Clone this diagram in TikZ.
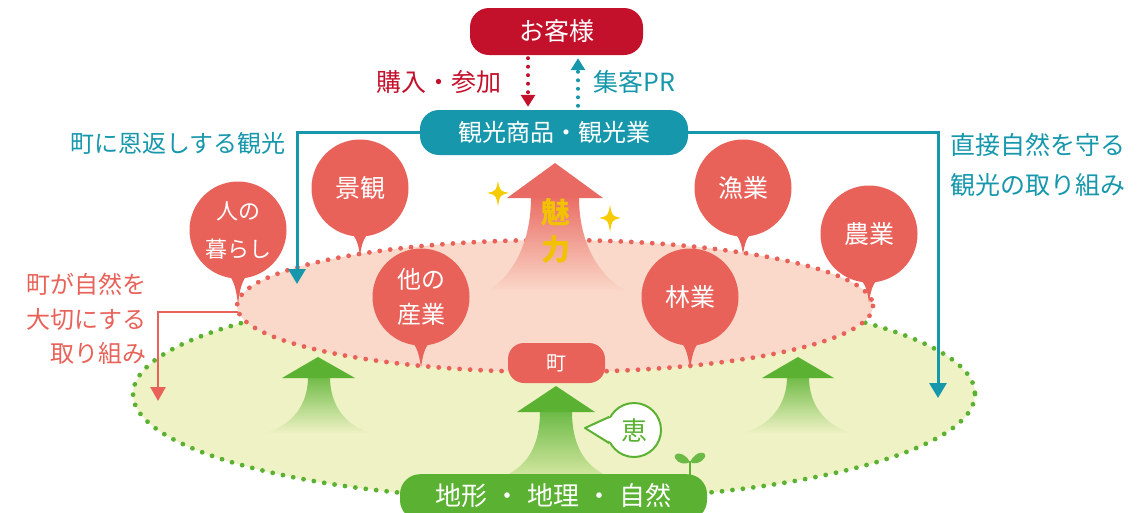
\documentclass[tikz,border=0pt]{standalone}
\usepackage{fontspec}
\setmainfont{Noto Sans CJK JP}
\usetikzlibrary{arrows.meta,calc}
\definecolor{kred}{HTML}{C3102B}
\definecolor{kteal}{HTML}{1697AC}
\definecolor{ksal}{HTML}{E8625A}
\definecolor{kpink}{HTML}{FAD9CA}
\definecolor{kgreen}{HTML}{5BB232}
\definecolor{kgfill}{HTML}{EEF2C4}
\definecolor{kglight}{HTML}{D3E7A0}
\definecolor{kyel}{HTML}{F6CC00}
\definecolor{kgold}{HTML}{F2C200}
\newcommand{\kfs}[2]{\fontsize{#1}{#2}\selectfont}
\newcommand{\ktail}[2]{\fill[ksal] ($(#1.south)+(-13,-7)$) .. controls ($(#1.south)+(-3,-1)$) and ($(#1.south)+(-1.5,#2-10)$) .. ($(#1.south)+(0,#2)$) .. controls ($(#1.south)+(1.5,#2-10)$) and ($(#1.south)+(3,-1)$) .. ($(#1.south)+(13,-7)$) -- cycle;}
\tikzset{
  bubble/.style={circle, fill=ksal, minimum size=97pt, inner sep=0pt, text=white, align=center},
  pillbox/.style={rectangle, rounded corners=19pt, inner sep=0pt, text=white},
  dotborder/.style={line width=4.8pt, line cap=round, dash pattern=on 0pt off 10.5pt},
  smalldots/.style={line width=4pt, line cap=round, dash pattern=on 0pt off 8.5pt},
  tealline/.style={draw=kteal, line width=3pt, -{Triangle[length=15pt,width=17pt]}},
  salline/.style={draw=ksal, line width=2.5pt, -{Triangle[length=14pt,width=15pt]}},
  sparkle/.style={fill=kyel}
}
\begin{document}
\begin{tikzpicture}[x=1pt,y=-1pt]
\useasboundingbox (0,0) rectangle (1137,512);
\begin{scope}
\clip (0,0) rectangle (1137,512);

% green ground ellipse
\path[fill=kgfill, draw=kgreen, dotborder] (554,394) ellipse [x radius=421, y radius=106];

% side green arrows
\shade[top color=kgreen!85!kgfill, bottom color=kgfill] (308,377) .. controls (308,405) and (292,425) .. (266,433) -- (370,433) .. controls (345,425) and (330,405) .. (330,377) -- cycle;
\fill[kgreen] (318,357) -- (355,378) -- (282,378) -- cycle;
\shade[top color=kgreen!85!kgfill, bottom color=kgfill] (787,377) .. controls (787,405) and (770,425) .. (744,433) -- (851,433) .. controls (825,425) and (809,405) .. (809,377) -- cycle;
\fill[kgreen] (798,357) -- (834,378) -- (762,378) -- cycle;

% pink town ellipse
\path[fill=kpink, draw=ksal, dotborder] (555,306) ellipse [x radius=318, y radius=66];

% pink charm arrow
\shade[top color=ksal!90!kpink, bottom color=kpink] (531,197) .. controls (531,240) and (515,275) .. (486,292) -- (628,292) .. controls (596,275) and (579,240) .. (579,197) -- cycle;
\fill[ksal!95!white] (555,163) -- (603,198) -- (507,198) -- cycle;
\node[text=kgold, font=\kfs{29}{37}\bfseries, align=center] (miryoku) at (556,231) {魅\\力};
\fill[sparkle] (498,181) .. controls (500,191) .. (509,193) .. controls (500,195) .. (498,206) .. controls (496,195) .. (487,193) .. controls (496,191) .. cycle;
\fill[sparkle] (610,205) .. controls (612,216) .. (621,218) .. controls (612,220) .. (610,232) .. controls (608,220) .. (599,218) .. controls (608,216) .. cycle;

% circles
\node[bubble, font=\kfs{22}{38}] (kurashi) at (238,230) {人の\\暮らし};
\ktail{kurashi}{25}
\node[bubble, font=\kfs{25}{30}] (keikan) at (360,188) {景観};
\ktail{keikan}{19}
\node[bubble, font=\kfs{24}{35}] (tasangyo) at (421,297) {他の\\産業};
\ktail{tasangyo}{22}
\node[bubble, font=\kfs{25}{30}] (ringyo) at (690,297) {林業};
\ktail{ringyo}{24}
\node[bubble, font=\kfs{25}{30}] (gyogyo) at (743,188) {漁業};
\ktail{gyogyo}{18}
\node[bubble, font=\kfs{25}{30}] (nogyo) at (869,234) {農業};
\ktail{nogyo}{20}

% top boxes
\node[pillbox, fill=kred, minimum width=173pt, minimum height=47pt, font=\kfs{25}{30}] (kyaku) at (556.5,31.5) {お客様};
\node[pillbox, fill=kteal, minimum width=268pt, minimum height=45pt, font=\kfs{24}{30}] (kanko) at (554,132.5) {観光商品・観光業};

% teal connectors
\coordinate (tealL) at (297,284);
\coordinate (tealR) at (938,398);
\draw[tealline] (kanko.west) -| (tealL);
\draw[tealline] (kanko.east) -| (tealR);

% dotted arrows between customer and tourism
\coordinate (buyX) at (528,0);
\coordinate (prX) at (578,0);
\draw[draw=kred, smalldots, -{Triangle[length=12pt,width=14pt]}, shorten <=3pt, shorten >=3pt] (kyaku.south -| buyX) -- (kanko.north -| buyX);
\draw[draw=kteal, smalldots, -{Triangle[length=12pt,width=14pt]}, shorten <=4pt, shorten >=3pt] (kanko.north -| prX) -- (kyaku.south -| prX);
\node[text=kred, font=\kfs{25}{30}] (konyu) at (439,82) {購入・参加};
\node[text=kteal, font=\kfs{25}{30}, anchor=west] (pr) at (590,82) {集客PR};

% side labels
\node[text=kteal, font=\kfs{24}{30}, anchor=east, inner sep=0pt] (ongaeshi) at (286,143) {町に恩返しする観光};
\node[text=kteal, font=\kfs{25}{40}, anchor=west, align=left, inner sep=0pt] (chokusetsu) at (950,165) {直接自然を守る\\観光の取り組み};
\node[text=ksal, font=\kfs{24}{34.5}, anchor=east, align=right, inner sep=0pt] (taisetsu) at (147,319) {町が自然を\\大切にする\\取り組み};

% red bracket
\coordinate (brStart) at (238,312);
\coordinate (brEnd) at (158,401);
\draw[salline] (brStart) -| (brEnd);

% central green arrow
\shade[top color=kgreen!90!white, bottom color=kglight] (540,411) .. controls (540,445) and (528,465) .. (505,476) -- (607,476) .. controls (584,465) and (572,445) .. (572,411) -- cycle;
\fill[kgreen] (556,386) -- (595,412) -- (517,412) -- cycle;

% town box
\node[pillbox, fill=ksal, rounded corners=16pt, minimum width=97pt, minimum height=40pt, font=\kfs{20}{24}] (machi) at (556.5,363) {町};

% ground box
\node[pillbox, fill=kgreen, rounded corners=20pt, minimum width=307pt, minimum height=46pt, anchor=north] (chikei) at (553.5,474) {};
\node[text=white, font=\kfs{26}{30}] (chikeitext) at (553.5,496) {地形\hspace{7pt}・\hspace{7pt}地理\hspace{7pt}・\hspace{7pt}自然};

% blessing speech bubble
\node[circle, draw=kgreen, fill=white, line width=2pt, minimum size=54pt, inner sep=0pt, text=kgreen, font=\kfs{26}{30}] (megumi) at (634,430) {恵};
\coordinate (mtip) at (585,428);
\fill[white] ($(megumi.150)+(3,1)$) -- (mtip) -- ($(megumi.210)+(3,-1)$) -- cycle;
\draw[kgreen, line width=2pt, line join=round] (megumi.152) -- (mtip) -- (megumi.208);

% sprout
\draw[kgreen, line width=2.5pt] (690,476) -- (690,461);
\fill[kgreen!90!white] (690,462) .. controls (684,451) and (673,452) .. (675,458) .. controls (678,464) and (686,465) .. (690,462);
\fill[kgreen!90!white] (690,462) .. controls (696,450) and (707,451) .. (705,457) .. controls (702,463) and (694,465) .. (690,462);
\end{scope}
\end{tikzpicture}
\end{document}
